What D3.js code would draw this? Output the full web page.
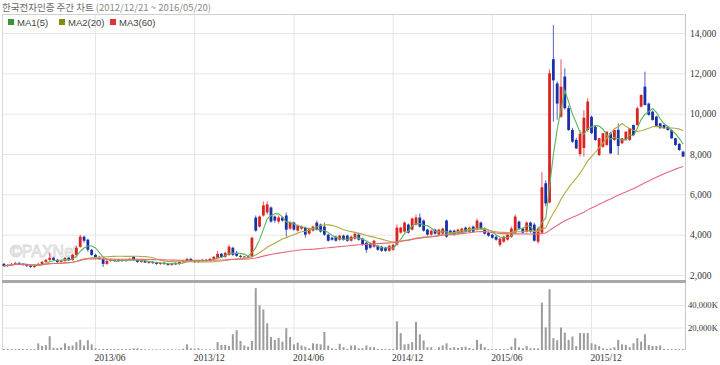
<!DOCTYPE html>
<html><head><meta charset="utf-8">
<script src="https://cdn.jsdelivr.net/npm/d3@7"></script>
<style>body{margin:0;background:#fff}svg{display:block}</style>
</head><body>
<svg id="c" width="720" height="365"></svg>
<script>
// ---- data ----
const startDate = "2012-12-21";
const weekCount = 179;
const tickLabels = ["2013/06","2013/12","2014/06","2014/12","2015/06","2015/12"];
const priceTicks = [2000,4000,6000,8000,10000,12000,14000];
const volTicks = [20000,40000]; // thousands
const maNames = ["MA1(5)","MA2(20)","MA3(60)"];
const maPeriods = [5,20,60];

const open = [
2550,2450,2500,2550,2600,2550,2500,2450,2400,2480,
2550,2650,2750,2850,2750,2650,2700,2850,2750,3000,
3400,3900,3750,3250,3000,2850,2800,2550,2700,2750,
2700,2750,2700,2750,2900,2750,2650,2700,2620,2650,
2600,2550,2600,2550,2500,2580,2550,2650,2700,2800,
2700,2650,2700,2750,2700,2800,2850,3050,2900,3000,
3350,3100,2950,2900,2920,2900,4850,4400,4950,5100,
5350,4900,4650,4850,4950,4300,4600,4200,4300,4350,
4050,4200,4600,4500,4400,4000,3850,3900,3750,3950,
3950,3700,3800,4000,3800,3600,3550,3400,3450,3400,
3350,3200,3250,3500,4100,4150,4500,4250,4500,4850,
4700,4250,4000,4250,4000,4050,4700,4200,4200,4050,
4100,4350,4150,4400,4250,4600,4300,4100,4000,3900,
3500,3650,3750,3900,4100,4650,4300,4150,4600,4500,
3650,4100,6550,5600,12700,11500,9850,11840,10270,9190,
8700,8000,8300,9190,9850,9360,7950,8360,8450,9030,
8700,9200,8530,8700,8700,9440,9440,10350,11340,10500,
10100,9850,9520,9440,9360,9190,8780,8500,8120];
const high = [
2600,2550,2600,2650,2650,2600,2550,2500,2500,2600,
2700,2800,3100,2900,2800,2750,2900,2900,3050,3450,
4000,3950,3800,3300,3050,2950,2850,2750,2800,2800,
2800,2800,2800,2850,2950,2800,2750,2750,2700,2700,
2650,2650,2650,2600,2600,2650,2700,2750,2850,2850,
2750,2750,2800,2800,2850,2950,3200,3100,3150,3500,
3400,3200,3000,2950,2950,3900,4950,4950,5650,5650,
5400,4950,4950,4900,5100,4650,4650,4500,4450,4400,
4350,4450,4700,4550,4600,4050,3900,3950,4000,4000,
4000,3950,4100,4100,3850,3650,3600,3750,3500,3450,
3400,3500,3550,4500,4400,4650,4550,4850,5000,5050,
4750,4300,4250,4300,4300,4350,4750,4250,4250,4300,
4350,4400,4400,4450,4800,4650,4350,4150,4050,3950,
3850,3950,4050,4400,5000,4700,4350,4650,4650,4600,
4400,7100,6700,12200,14400,11600,12700,12250,10400,9300,
8800,9190,10180,10760,9900,9400,8800,9030,9110,9100,
9190,9520,8780,9110,9280,9450,10350,10950,12080,10550,
10150,9900,9550,9460,9400,9200,8800,8550,8150];
const low = [
2400,2400,2450,2500,2500,2450,2400,2350,2350,2450,
2500,2600,2700,2700,2600,2600,2650,2700,2700,2950,
3350,3600,3150,2950,2800,2750,2400,2500,2650,2650,
2650,2650,2650,2700,2700,2600,2600,2600,2550,2550,
2500,2500,2500,2450,2450,2500,2500,2600,2650,2650,
2600,2600,2650,2650,2650,2750,2800,2850,2850,2950,
2950,2900,2850,2850,2850,2850,4150,4350,4900,5000,
4600,4600,4550,4650,3900,4250,4200,4150,4250,3850,
4000,4150,4200,4100,3950,3650,3700,3650,3700,3700,
3650,3650,3750,3700,3450,3100,3300,3350,3200,3150,
3150,3150,3200,3450,4050,4100,4050,4200,4450,4350,
4150,3950,3950,4000,3950,4000,3850,4000,3950,4000,
4050,4100,4100,4100,4200,4250,4000,3900,3800,3700,
3400,3600,3700,3850,4050,4250,4050,4100,4100,3650,
3550,4050,5400,5550,9600,9700,9800,10200,9150,8550,
8250,7870,7870,9100,9000,8650,7900,8300,8400,8000,
8650,7950,8500,8650,8650,8900,9400,10300,10400,9900,
9650,9350,9250,9250,9150,8750,8400,8150,7850];
const close = [
2450,2500,2550,2600,2550,2500,2450,2400,2480,2550,
2650,2750,2850,2750,2650,2700,2850,2750,3000,3350,
3900,3700,3250,3000,2850,2800,2550,2700,2750,2700,
2750,2700,2750,2800,2750,2650,2700,2620,2650,2600,
2550,2600,2550,2500,2580,2550,2650,2700,2800,2700,
2650,2700,2750,2700,2800,2900,3050,2900,3100,3400,
3000,2950,2900,2920,2900,3850,4200,4900,5450,5500,
4650,4700,4850,4700,4250,4600,4250,4450,4400,4000,
4300,4400,4250,4150,4000,3700,3750,3700,3950,3750,
3700,3900,4050,3750,3500,3250,3350,3700,3250,3200,
3200,3450,3500,4350,4350,4600,4100,4800,4850,4400,
4200,4000,4200,4050,4250,4300,3900,4050,4000,4250,
4300,4150,4350,4150,4700,4300,4050,3950,3850,3750,
3800,3900,4000,4300,4900,4300,4100,4600,4150,3700,
4300,6350,5550,12000,11650,10500,11340,10270,9190,8610,
8280,9000,9800,10600,9030,8700,8780,9030,9110,8030,
9190,8400,8780,9110,9280,8940,10270,10930,10430,9940,
9690,9360,9280,9280,9190,8780,8450,8200,7870];
const volume = [ // thousands of shares
800,800,800,800,800,800,800,800,800,5900,
3500,4200,12300,2000,1800,2200,6000,3500,4000,7000,
9000,4000,8700,5000,1500,800,800,800,800,800,
800,800,800,1000,1500,1500,1000,600,600,600,
600,600,600,600,600,600,600,1200,5000,1500,
1200,1500,600,600,600,600,7000,4500,4500,3500,
14000,17600,8000,4000,3000,8000,55000,39600,36000,23800,
11500,9000,10800,7500,19400,11500,5000,6500,4000,3000,
1500,6000,5500,5000,16000,4000,1500,1000,5500,2500,
1000,4000,4000,1500,1500,4000,2500,2500,1000,1000,
800,800,800,25500,15000,5000,5500,7000,25000,14000,
8500,2500,2500,500,2500,4000,6000,1800,2500,1800,
2500,3000,1800,1000,9000,5500,2500,800,800,800,
800,800,800,3000,10500,2500,1500,3500,1500,1500,
1500,42000,20000,54000,10500,8700,20000,15500,9000,12000,
3500,15000,15000,15000,6000,5000,3500,1500,1000,1500,
2500,9000,5000,4500,2500,6000,10500,7500,14000,4500,
3500,3500,4000,1000,800,800,800,800,800];

// ---- derived ----
const parse = d3.timeParse("%Y-%m-%d");
const fmtYM = d3.timeFormat("%Y/%m");
const dates = d3.range(weekCount).map(i => d3.timeDay.offset(parse(startDate), 7*i));
const tickIdx = tickLabels.map(l => dates.findIndex(d => fmtYM(d) === l));

function movingAvg(arr, n){
  return arr.map((_, i) => d3.mean(arr.slice(Math.max(0, i-n+1), i+1)));
}

// ---- layout ----
const L = 2, R = 685, TOP = 14, PB = 280, VB = 350;
const svg = d3.select("#c");
const x = d3.scaleBand().domain(d3.range(weekCount)).range([L, R]);
const cx = i => x(i) + x.bandwidth()/2;
const y = d3.scaleLinear().domain([2000, 14000]).range([275, 33]);
const yv = d3.scaleLinear().domain([0, 40000]).range([VB, 305]);

const gridColor = "#e6e6e6";
const labelFont = "'Liberation Serif', 'DejaVu Serif', serif";

// price grid + labels
const yAxis = d3.axisRight(y).tickValues(priceTicks).tickSize(-(R-L)).tickPadding(5)
  .tickFormat(d3.format(","));
const gy = svg.append("g").attr("transform", `translate(${R},0)`).call(yAxis);
gy.select(".domain").remove();
gy.selectAll("line").attr("stroke", gridColor);
gy.selectAll("text").attr("font-family", labelFont).attr("font-size", 9.5).attr("fill", "#333");

// volume grid + labels
const vAxis = d3.axisRight(yv).tickValues(volTicks).tickSize(-(R-L)).tickPadding(3)
  .tickFormat(d => d3.format(",")(d) + "K");
const gv = svg.append("g").attr("transform", `translate(${R},0)`).call(vAxis);
gv.select(".domain").remove();
gv.selectAll("line").attr("stroke", gridColor);
gv.selectAll("text").attr("font-family", labelFont).attr("font-size", 8.6).attr("fill", "#333");

// vertical month grid + x labels
const xAxis = d3.axisBottom(x).tickValues(tickIdx).tickSize(-(VB-TOP)).tickPadding(4)
  .tickFormat((d, k) => tickLabels[k]);
const gx = svg.append("g").attr("transform", `translate(0,${VB})`).call(xAxis);
gx.select(".domain").remove();
gx.selectAll("line").attr("stroke", gridColor);
gx.selectAll("text").attr("font-family", labelFont).attr("font-size", 9.5).attr("fill", "#333")
  .attr("text-anchor", "start").attr("dx", -1);

// frame
svg.append("line").attr("x1", L).attr("x2", R).attr("y1", TOP+0.5).attr("y2", TOP+0.5).attr("stroke", "#d0d0d0");
svg.append("line").attr("x1", L+0.5).attr("x2", L+0.5).attr("y1", TOP).attr("y2", VB).attr("stroke", "#d8d8d8");
svg.append("line").attr("x1", R+0.5).attr("x2", R+0.5).attr("y1", TOP).attr("y2", VB).attr("stroke", "#c8c8c8");
svg.append("rect").attr("x", L).attr("y", PB).attr("width", R-L+1).attr("height", 3).attr("fill", "#a8a8a8");

// watermark
svg.append("text").attr("x", 10).attr("y", 257).text("©PAXNet")
  .attr("font-family", "'Liberation Sans', Arial, sans-serif").attr("font-size", 16)
  .attr("fill", "none").attr("stroke", "#d9d9d9").attr("stroke-width", 0.9);

// volume bars
svg.append("g").selectAll("rect").data(volume).join("rect")
  .attr("x", (d, i) => cx(i) - 1).attr("width", 2)
  .attr("y", d => yv(d)).attr("height", d => VB - yv(d))
  .attr("fill", "#9c9c9c");

// candles
const up = "#dd2222", down = "#1a30a8";
const idx = d3.range(weekCount);
const cg = svg.append("g");
cg.selectAll("line").data(idx).join("line")
  .attr("x1", i => cx(i)).attr("x2", i => cx(i))
  .attr("y1", i => y(high[i])).attr("y2", i => y(low[i]))
  .attr("stroke", i => close[i] >= open[i] ? up : down).attr("stroke-opacity", 0.75).attr("stroke-width", 1);
cg.selectAll("rect").data(idx).join("rect")
  .attr("x", i => cx(i) - 1.4).attr("width", 2.8)
  .attr("y", i => Math.min(y(open[i]), y(close[i])))
  .attr("height", i => Math.max(1, Math.abs(y(open[i]) - y(close[i]))))
  .attr("fill", i => close[i] >= open[i] ? up : down);

// moving averages
const maColors = ["#5fb35f", "#b3aa40", "#e8687c"];
const line = d3.line().x((d, i) => cx(i)).y(d => y(d));
maPeriods.forEach((n, k) => {
  svg.append("path").datum(movingAvg(close, n)).attr("d", line)
    .attr("fill", "none").attr("stroke", maColors[k]).attr("stroke-width", 1.1);
});

// title
const title = svg.append("text").attr("x", 2).attr("y", 11)
  .attr("font-family", "'Noto Sans CJK KR', 'Noto Sans', sans-serif").attr("font-size", 9.5);
title.append("tspan").attr("fill", "#666").text("한국전자인증 주간 차트 ");
title.append("tspan").attr("fill", "#888").text("(2012/12/21 ~ 2016/05/20)");

// legend
const legSq = ["#339933", "#888811", "#e03333"];
const lg = svg.append("g").attr("font-family", "'Liberation Sans', Arial, sans-serif").attr("font-size", 9.5).attr("fill", "#444");
maNames.forEach((nm, k) => {
  const lx = 8 + k * 51;
  lg.append("rect").attr("x", lx).attr("y", 19).attr("width", 6).attr("height", 6).attr("fill", legSq[k]);
  lg.append("text").attr("x", lx + 9).attr("y", 25.5).text(nm);
});
</script>
</body></html>
